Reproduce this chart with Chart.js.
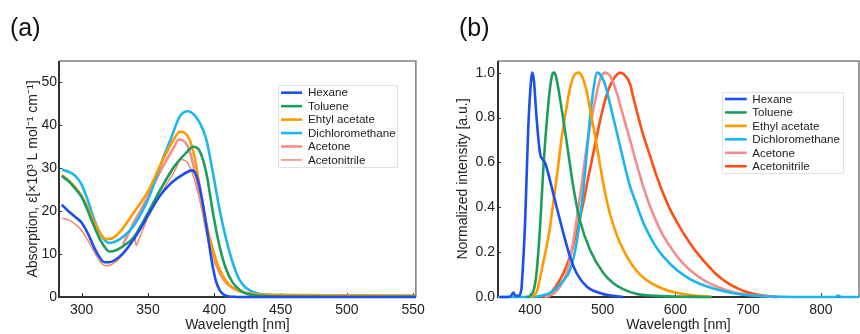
<!DOCTYPE html>
<html><head><meta charset="utf-8">
<script src="https://cdn.jsdelivr.net/npm/chart.js@4"></script>
<style>
body{margin:0;background:#fff;width:860px;height:334px;overflow:hidden;position:relative;font-family:"Liberation Sans",Arial,sans-serif}
.panel{position:absolute;top:0;width:430px;height:334px}
.lab{position:absolute;font-size:25px;color:#111;line-height:30px}
</style></head><body>
<div class="panel" style="left:0"><canvas id="ca" width="430" height="334"></canvas></div>
<div class="panel" style="left:430px"><canvas id="cb" width="430" height="334"></canvas></div>
<div class="lab" style="left:10px;top:12px">(a)</div>
<div class="lab" style="left:459px;top:12px">(b)</div>
<script>
// ---------- DATA ----------
const solventsA = ['Hexane','Toluene','Ehtyl acetate','Dichloromethane','Acetone','Acetonitrile'];
const solventsB = ['Hexane','Toluene','Ethyl acetate','Dichloromethane','Acetone','Acetonitrile'];

const xTicksA = [300,350,400,450,500,550];
const yTicksA = [0,10,20,30,40,50];
const xTicksB = [400,500,600,700,800];
const yTicksB = [0,0.2,0.4,0.6,0.8,1.0];

// (a) absorption [wavelength nm, epsilon x10^3]
const absHexane = [[285,21.5],[290,20.0],[295,18.7],[300,17.3],[305,14.6],[309,11.8],[313,9.5],[317,8.1],[321,8.1],[326,8.8],[330,9.8],[335,11.6],[340,13.8],[345,16.3],[350,19.0],[355,21.7],[360,24.0],[365,25.8],[370,27.2],[375,28.3],[380,29.2],[383,29.5],[386,28.6],[389,25.5],[392,20.5],[395,14.5],[398,8.5],[401,4.0],[404,1.6],[407,0.6],[410,0.2],[415,0.05],[420,0],[450,0],[500,0],[552,0]];
const absToluene = [[285,28.2],[290,27.0],[295,25.3],[300,23.3],[305,19.8],[310,16.0],[315,12.8],[321,10.6],[326,10.9],[332,12.0],[339,13.8],[345,16.8],[350,19.6],[360,25.4],[370,30.5],[380,34.0],[384,35.0],[389,34.0],[394,28.9],[399,19.6],[404,11.8],[409,6.4],[414,3.3],[419,1.7],[424,0.8],[430,0.4],[440,0.2],[460,0.1],[500,0.05],[552,0.05]];
const absEthyl = [[285,28.4],[290,27.2],[295,25.6],[300,23.5],[305,20.5],[310,17.2],[315,14.4],[319,13.5],[323,13.7],[330,15.6],[339,19.6],[350,24.6],[360,31.2],[370,37.0],[374,38.5],[380,37.5],[385,32.8],[389,25.8],[394,17.2],[399,11.0],[404,6.4],[409,3.7],[414,2.1],[424,0.9],[435,0.6],[450,0.5],[500,0.4],[552,0.3]];
const absDCM = [[285,29.7],[290,29.2],[295,28.3],[300,26.2],[305,22.2],[310,17.6],[315,14.2],[321,12.6],[326,13.0],[332,14.2],[339,16.5],[350,22.7],[360,31.2],[367,36.7],[374,42.1],[380,43.3],[385,42.4],[389,40.6],[394,36.7],[399,28.9],[404,20.4],[409,13.4],[414,7.9],[419,4.0],[424,2.1],[432,0.9],[450,0.4],[500,0.25],[552,0.2]];
const absAcetone = [[331,12.2],[335,14.6],[339,17.2],[345,20.5],[350,23.5],[360,29.7],[370,35.1],[373,36.7],[380,35.1],[385,29.7],[389,23.5],[394,15.7],[399,9.5],[404,5.6],[409,3.3],[420,1.3],[430,0.7],[450,0.4],[500,0.3],[552,0.3]];
const absAcetonitrile = [[285,18.4],[290,18.0],[295,17.0],[300,15.5],[305,13.0],[310,10.2],[314,8.2],[318,7.3],[322,7.5],[326,8.3],[330,9.5],[334,11.0],[338,13.0],[340,14.6],[341,12.0],[343,13.3],[346,15.6],[350,18.6],[355,21.4],[360,24.2],[365,26.8],[370,29.3],[375,32.0],[380,31.2],[385,27.4],[389,22.7],[394,16.5],[399,10.3],[404,6.0],[409,3.4],[420,1.3],[430,0.7],[450,0.4],[500,0.3],[552,0.3]];

// (b) normalized emission [wavelength nm, intensity]
const emHexane = [[358,0],[370,0],[374,0.005],[377,0.02],[380,0.005],[384,0.005],[388,0.03],[390.5,0.15],[393,0.31],[395.5,0.55],[397.7,0.76],[400,0.9],[402,0.98],[403.5,1.0],[405.5,0.96],[409,0.8],[413.8,0.64],[417,0.615],[420.6,0.6],[427.5,0.52],[436.7,0.40],[445.9,0.285],[455,0.18],[464,0.107],[478,0.047],[496,0.018],[512,0.006],[528,0]];
const emToluene = [[395,0],[400,0.005],[405,0.03],[409,0.107],[413.8,0.31],[418.3,0.57],[423,0.78],[427.5,0.93],[430.5,0.99],[433,1.0],[436,0.98],[441,0.89],[450.5,0.69],[459.6,0.49],[468.8,0.34],[482.6,0.21],[500.9,0.107],[515,0.06],[528,0.035],[547,0.013],[580,0.004],[650,0]];
const emEthyl = [[400,0],[405,0.005],[410,0.03],[414,0.09],[420,0.18],[427.5,0.31],[432,0.42],[437,0.54],[444,0.72],[450.5,0.85],[455,0.93],[461,0.99],[467,1.0],[472,0.98],[477,0.93],[482.6,0.84],[490,0.71],[496.3,0.59],[503,0.47],[510,0.37],[519,0.28],[528.4,0.21],[540,0.145],[551.4,0.1],[565,0.065],[583.5,0.036],[600,0.02],[620,0.009],[650,0]];
const emDCM = [[356,0],[380,0],[405,0],[415,0.005],[425,0.015],[435,0.035],[445,0.07],[455,0.12],[464,0.24],[473.4,0.48],[478,0.64],[482.6,0.8],[487,0.92],[492.5,1.0],[498,0.985],[504,0.94],[510,0.86],[519,0.74],[528.4,0.61],[537,0.5],[546.8,0.41],[556,0.33],[565,0.27],[574,0.22],[583.4,0.18],[601.9,0.12],[620,0.08],[635,0.057],[650,0.04],[665,0.027],[680,0.017],[700,0.008],[730,0.002],[760,0],[800,0],[820,0],[824,0.006],[828,0],[852,0]];
const emAcetone = [[420,0],[430,0.01],[440,0.04],[450.5,0.107],[457,0.2],[464,0.34],[471,0.5],[478,0.67],[485,0.8],[491.8,0.91],[497,0.975],[503,1.0],[509,0.99],[514,0.96],[519.3,0.91],[528,0.81],[537.6,0.70],[546,0.6],[556,0.49],[565,0.405],[574,0.335],[583,0.275],[592.7,0.225],[605,0.17],[620,0.12],[640,0.073],[660,0.042],[680,0.021],[700,0.01],[720,0.004],[740,0]];
const emAcetonitrile = [[414,0],[420,0.005],[427.5,0.015],[435,0.045],[445,0.1],[455,0.18],[464,0.29],[473.4,0.42],[480,0.53],[487,0.64],[494,0.75],[501,0.85],[508,0.925],[514.6,0.97],[519,0.99],[524,1.0],[530,0.99],[537.6,0.95],[542,0.89],[546.8,0.83],[555,0.73],[565,0.63],[574,0.54],[583.4,0.46],[592,0.395],[601.9,0.335],[611,0.285],[620.2,0.24],[629,0.2],[643.2,0.145],[655,0.105],[665,0.078],[675,0.056],[687,0.036],[698,0.022],[710,0.012],[721,0.006],[740,0]];

const colHexane='#1a4ff0', colToluene='#1c9e5c', colEthyl='#ff9a00', colDCM='#19b6f0', colAcetone='#f48e8e';
const colAcnA='#f47a55', colAcnB='#ff5010';

// ---------- PLUGINS ----------
const framePlugin = {
  id:'frame',
  beforeDatasetsDraw(chart){
    const {ctx, chartArea:{left,right,top,bottom}, scales:{x,y}} = chart;
    ctx.save();
    ctx.strokeStyle='#333'; ctx.lineWidth=1;
    x.ticks.forEach(t=>{const px=Math.round(x.getPixelForValue(t.value))+0.5;ctx.beginPath();ctx.moveTo(px,bottom);ctx.lineTo(px,bottom-4);ctx.stroke();});
    y.ticks.forEach(t=>{const py=Math.round(y.getPixelForValue(t.value))+0.5;ctx.beginPath();ctx.moveTo(left,py);ctx.lineTo(left+3,py);ctx.stroke();});
    ctx.strokeStyle='#808080'; ctx.lineWidth=1.6;
    ctx.beginPath();ctx.moveTo(left,top);ctx.lineTo(right,top);ctx.lineTo(right,bottom);ctx.stroke();
    ctx.strokeStyle='#333'; ctx.lineWidth=2;
    ctx.beginPath();ctx.moveTo(left,top);ctx.lineTo(left,bottom);ctx.lineTo(right,bottom);ctx.stroke();
    ctx.restore();
  }
};
const legendPlugin = {
  id:'boxLegend',
  afterDraw(chart, args, o){
    if(!o || o.x===undefined) return;
    const ctx=chart.ctx; ctx.save();
    ctx.fillStyle='#fff'; ctx.fillRect(o.x,o.y,o.w,o.h);
    ctx.strokeStyle='#e2e2e2'; ctx.lineWidth=1; ctx.strokeRect(o.x+0.5,o.y+0.5,o.w,o.h);
    ctx.font='11.6px "Liberation Sans", Arial, sans-serif'; ctx.textBaseline='middle'; ctx.textAlign='left';
    chart.data.datasets.forEach((ds,i)=>{
      const cy=o.y+o.first+i*o.step;
      ctx.strokeStyle=ds.borderColor; ctx.lineWidth=ds.legendWidth||2.6;
      ctx.beginPath(); ctx.moveTo(o.x+o.lx1,cy); ctx.lineTo(o.x+o.lx2,cy); ctx.stroke();
      ctx.fillStyle='#222'; ctx.fillText(ds.label,o.x+o.tx,cy+0.5);
    });
    ctx.restore();
  }
};

function ds(label,data,color,width){
  return {label, data:data.map(p=>({x:p[0],y:p[1]})), borderColor:color, backgroundColor:color,
    borderWidth:width, legendWidth:width, pointRadius:0, cubicInterpolationMode:'monotone', clip:false, fill:false};
}
const FONT = {family:'"Liberation Sans", Arial, sans-serif', size:14};
function makeOptions(cfg){
  return {
    responsive:false, animation:false, events:[],
    layout:{padding:{left:0,right:cfg.padRight,top:61,bottom:0}},
    plugins:{legend:{display:false}, tooltip:{enabled:false}, boxLegend:cfg.legend},
    scales:{
      x:{type:'linear', min:cfg.xmin, max:cfg.xmax,
        afterBuildTicks:s=>{s.ticks=cfg.xticks.map(v=>({value:v}));},
        afterFit:s=>{s.height=37;},
        grid:{display:false, drawTicks:false}, border:{display:false},
        ticks:{font:FONT, color:'#222', padding:5, maxRotation:0, autoSkip:false},
        title:{display:true, text:'Wavelength [nm]', font:FONT, color:'#222', padding:{top:0,bottom:0.5}}
      },
      y:{type:'linear', min:cfg.ymin, max:cfg.ymax,
        afterBuildTicks:s=>{s.ticks=cfg.yticks.map(v=>({value:v}));},
        afterFit:s=>{s.width=cfg.ywidth;},
        grid:{display:false, drawTicks:false}, border:{display:false},
        ticks:{font:FONT, color:'#222', padding:cfg.ypad, autoSkip:false, callback:cfg.yfmt},
        title:{display:true, text:cfg.ytitle, font:FONT, color:'#222', padding:{top:25,bottom:0}}
      }
    }
  };
}

new Chart(document.getElementById('ca'), {
  type:'line',
  data:{datasets:[
    ds(solventsA[0],absHexane,colHexane,2.6),
    ds(solventsA[1],absToluene,colToluene,2.6),
    ds(solventsA[2],absEthyl,colEthyl,2.6),
    ds(solventsA[3],absDCM,colDCM,2.6),
    ds(solventsA[4],absAcetone,colAcetone,2.6),
    ds(solventsA[5],absAcetonitrile,colAcnA,1.3)
  ]},
  options:makeOptions({padRight:14, xmin:282.9, xmax:552, ymin:0, ymax:55, xticks:xTicksA, yticks:yTicksA,
    ywidth:59, ypad:2, yfmt:v=>String(v), ytitle:'Absorption, ε[×10³ L mol⁻¹ cm⁻¹]',
    legend:{x:278,y:85,w:119,h:82,first:7.7,step:13.45,lx1:3,lx2:24,tx:30}}),
  plugins:[framePlugin, legendPlugin]
});

new Chart(document.getElementById('cb'), {
  type:'line',
  data:{datasets:[
    ds(solventsB[0],emHexane,colHexane,2.6),
    ds(solventsB[1],emToluene,colToluene,2.6),
    ds(solventsB[2],emEthyl,colEthyl,2.6),
    ds(solventsB[3],emDCM,colDCM,2.6),
    ds(solventsB[4],emAcetone,colAcetone,2.6),
    ds(solventsB[5],emAcetonitrile,colAcnB,2.6)
  ]},
  options:makeOptions({padRight:1, xmin:356, xmax:852.5, ymin:0, ymax:1.052, xticks:xTicksB, yticks:yTicksB,
    ywidth:68, ypad:3, yfmt:v=>v.toFixed(1), ytitle:'Normalized intensity [a.u.]',
    legend:{x:292,y:92,w:121,h:81,first:7,step:13.45,lx1:3,lx2:24.7,tx:30.3}}),
  plugins:[framePlugin, legendPlugin]
});
</script>
</body></html>
